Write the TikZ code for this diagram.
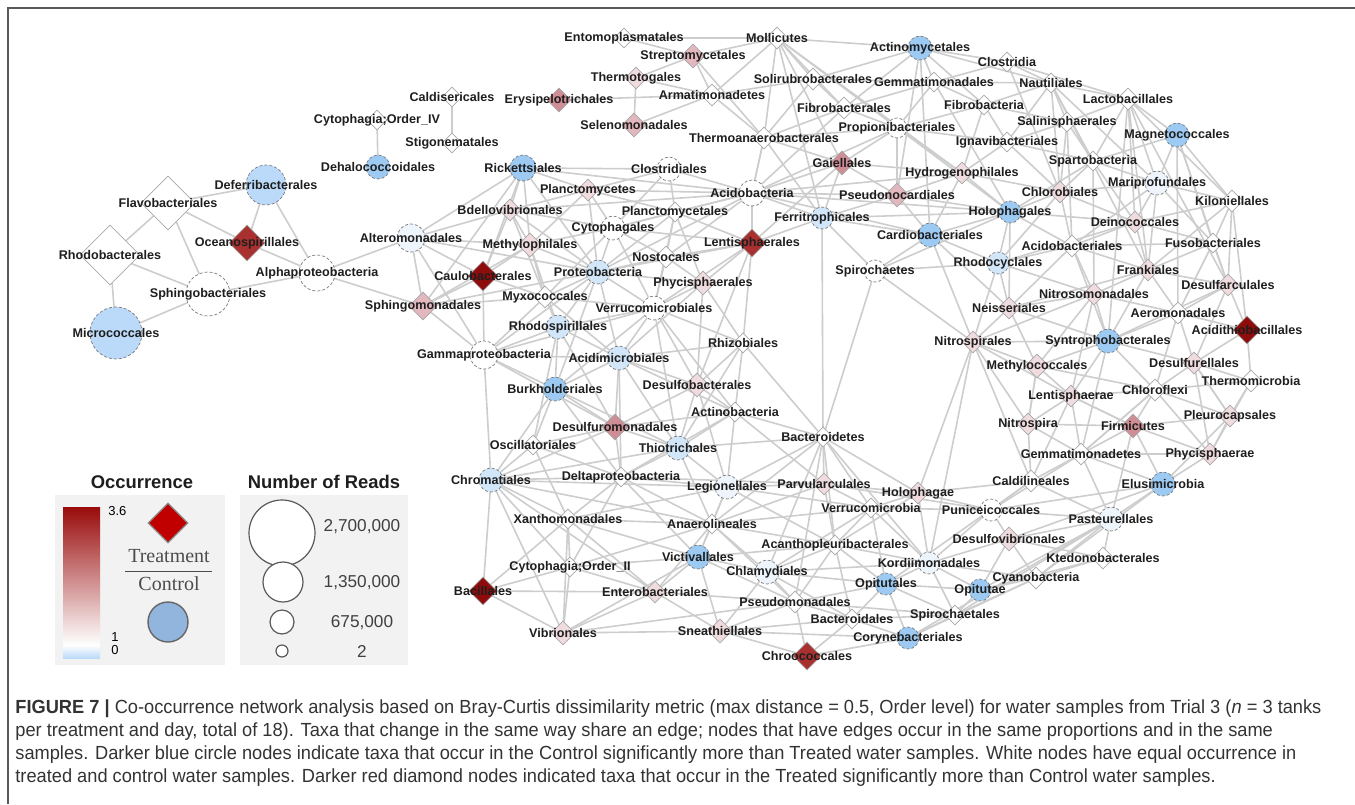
\documentclass[tikz,border=0pt]{standalone}
\usepackage{fontspec}
\setmainfont{Liberation Sans}
\newfontfamily\capfont[FakeStretch=0.96]{Liberation Sans}
\newfontfamily\legserif{Liberation Serif}
\usetikzlibrary{shapes.geometric,backgrounds}

\definecolor{edge}{HTML}{CDCDCD}
\definecolor{dline}{HTML}{A8A8A8}
\definecolor{cline}{HTML}{7A7A7A}
\definecolor{ink}{HTML}{1E1E1E}
\definecolor{bl0}{HTML}{EDF4FC}
\definecolor{bl1}{HTML}{D2E6F9}
\definecolor{bl2}{HTML}{BBDAF9}
\definecolor{bl3}{HTML}{9DCAF3}
\definecolor{pk1}{HTML}{F0DCDF}
\definecolor{pk2}{HTML}{E2B7BD}
\definecolor{pk3}{HTML}{CF8E95}
\definecolor{rd1}{HTML}{A8302F}
\definecolor{rd2}{HTML}{8E0C0C}
\definecolor{legbox}{HTML}{F2F2F2}
\definecolor{legblue}{HTML}{92B5DD}
\definecolor{legred}{HTML}{C00000}
\definecolor{captxt}{HTML}{333333}

\tikzset{
  lbl/.style={font=\fontsize{6.3}{7}\selectfont\bfseries, text=ink, inner sep=0pt},
  tag/.style={label={[lbl]center:#1}},
  dia/.style={diamond, aspect=1, inner sep=0pt, minimum size=10pt, draw=dline, line width=0.3pt, fill=white},
  cir/.style={circle, inner sep=0pt, draw=cline, dash pattern=on 1.5pt off 1pt, line width=0.35pt, fill=white},
  link/.style={draw=edge, line width=0.8pt},
  capline/.style={anchor=west, inner sep=0pt, text=captxt, font=\capfont\fontsize{9.5}{11}\selectfont},
  legtitle/.style={font=\fontsize{9.2}{11}\selectfont\bfseries, text=ink},
  legnum/.style={font=\fontsize{8.6}{10}\selectfont, text=black!75},
  legcirc/.style={circle, draw=black!65, line width=0.6pt, fill=white, inner sep=0pt}
}

\begin{document}
\begin{tikzpicture}[x=0.5pt,y=-0.5pt]
\useasboundingbox (0,0) rectangle (1355,804);
\draw[black!65, line width=0.75pt] (1355,8) -- (8,8) -- (8,804);

% top left group
\node[dia, tag=Caldisericales] (caldis) at (452,97) {};
\node[dia, tag={Cytophagia;Order\_IV}] (cytoIV) at (377,120) {};
\node[dia, tag=Stigonematales] (stigo) at (452,143) {};
\node[cir, fill=bl3, minimum size=12pt, tag=Dehalococcoidales] (dehalo) at (378,167) {};
\node[cir, fill=bl2, minimum size=20pt, tag=Deferribacterales] (defer) at (266,185) {};
\node[dia, minimum size=27pt, tag=Flavobacteriales] (flavo) at (168,203) {};
\node[dia, minimum size=30pt, tag=Rhodobacterales] (rhodob) at (110,255) {};
\node[dia, fill=rd1, minimum size=18pt, tag=Oceanospirillales] (ocean) at (247,243) {};
\node[cir, minimum size=18pt, tag=Alphaproteobacteria] (alpha) at (317,273) {};
\node[cir, minimum size=22pt, tag=Sphingobacteriales] (sphb) at (208,294) {};
\node[cir, fill=bl2, minimum size=26pt, tag=Micrococcales] (micro) at (116,333) {};
\node[cir, fill=bl0, minimum size=14pt, tag=Alteromonadales] (alter) at (411,238) {};
\node[dia, fill=pk2, minimum size=14pt, tag=Sphingomonadales] (sphingo) at (423,306) {};
\node[cir, minimum size=14pt, tag=Gammaproteobacteria] (gamma) at (484,355) {};

% middle group
\node[dia, fill=rd2, minimum size=15pt, tag=Caulobacterales] (caulo) at (483,276) {};
\node[cir, fill=bl3, minimum size=13pt, tag=Rickettsiales] (rick) at (523,168) {};
\node[cir, minimum size=12pt, tag=Clostridiales] (clostl) at (669,169) {};
\node[dia, fill=pk1, minimum size=11pt, tag=Planctomycetes] (planc) at (588,190) {};
\node[cir, minimum size=13pt, tag=Acidobacteria] (acidob) at (752,193) {};
\node[dia, fill=pk1, minimum size=11pt, tag=Bdellovibrionales] (bdello) at (510,210) {};
\node[dia, tag=Planctomycetales] (plctl) at (675,212) {};
\node[cir, fill=bl1, minimum size=11pt, tag=Ferritrophicales] (ferri) at (822,218) {};
\node[cir, minimum size=12pt, tag=Cytophagales] (cytoph) at (613,228) {};
\node[dia, fill=pk1, minimum size=12pt, tag=Methylophilales] (methph) at (530,245) {};
\node[dia, fill=rd1, minimum size=14pt, tag=Lentisphaerales] (lentl) at (752,243) {};
\node[dia, minimum size=11pt, tag=Nostocales] (nosto) at (666,257) {};
\node[cir, fill=bl1, minimum size=12pt, tag=Proteobacteria] (proteo) at (598,272) {};
\node[dia, fill=pk1, minimum size=12pt, tag=Phycisphaerales] (phycl) at (703,283) {};
\node[cir, minimum size=11pt, tag=Spirochaetes] (spiroch) at (875,271) {};
\node[cir, fill=bl3, minimum size=12pt, tag=Cardiobacteriales] (cardio) at (930,235) {};
\node[dia, minimum size=11pt, tag=Myxococcales] (myxo) at (545,297) {};
\node[cir, minimum size=12pt, tag=Verrucomicrobiales] (verrl) at (654,308) {};
\node[cir, fill=bl1, minimum size=12pt, tag=Rhodospirillales] (rhodsp) at (558,327) {};
\node[dia, tag=Rhizobiales] (rhizo) at (743,343) {};
\node[cir, fill=bl1, minimum size=12pt, tag=Acidimicrobiales] (acidim) at (619,358) {};
\node[cir, fill=bl3, minimum size=12pt, tag=Burkholderiales] (burk) at (555,389) {};
\node[dia, fill=pk1, minimum size=12pt, tag=Desulfobacterales] (desulfob) at (697,385) {};
\node[dia, tag=Actinobacteria] (actino) at (735,412) {};
\node[dia, fill=pk3, minimum size=13pt, tag=Desulfuromonadales] (desulfur) at (615,427) {};
\node[dia, tag=Oscillatoriales] (oscill) at (533,445) {};
\node[cir, fill=bl1, minimum size=12pt, tag=Thiotrichales] (thiot) at (678,448) {};
\node[dia, tag=Bacteroidetes] (bactd) at (823,437) {};
\node[cir, fill=bl1, minimum size=12pt, tag=Chromatiales] (chrom) at (491,480) {};
\node[dia, tag=Deltaproteobacteria] (delta) at (621,477) {};
\node[cir, fill=bl0, minimum size=12pt, tag=Legionellales] (legion) at (727,487) {};
\node[dia, fill=pk1, minimum size=11pt, tag=Parvularculales] (parvu) at (824,484) {};
\node[dia, fill=pk1, minimum size=11pt, tag=Holophagae] (holoph) at (918,493) {};
\node[dia, tag=Verrucomicrobia] (verrua) at (871,508) {};
\node[dia, tag=Xanthomonadales] (xantho) at (568,519) {};
\node[dia, tag=Anaerolineales] (anaero) at (712,524) {};
\node[dia, tag=Acanthopleuribacterales] (acantho) at (835,545) {};
\node[cir, fill=bl3, minimum size=12pt, tag=Victivallales] (victi) at (698,557) {};
\node[dia, tag={Cytophagia;Order\_II}] (cytoII) at (570,567) {};
\node[cir, fill=bl0, minimum size=12pt, tag=Chlamydiales] (chlamy) at (767,572) {};
\node[cir, fill=bl0, minimum size=11pt, tag=Kordiimonadales] (kordi) at (929,563) {};
\node[cir, fill=bl3, minimum size=11pt, tag=Opitutales] (opitl) at (886,584) {};
\node[cir, fill=bl3, minimum size=11pt, tag=Opitutae] (opitae) at (980,590) {};
\node[dia, fill=rd2, minimum size=14pt, tag=Bacillales] (bacil) at (483,591) {};
\node[dia, fill=pk1, minimum size=11pt, tag=Enterobacteriales] (entero) at (655,592) {};
\node[dia, minimum size=11pt, tag=Pseudomonadales] (pseudo) at (795,602) {};
\node[dia, tag=Bacteroidales] (bactl) at (852,619) {};
\node[dia, tag=Spirochaetales] (spirol) at (955,615) {};
\node[cir, fill=bl3, minimum size=11pt, tag=Corynebacteriales] (coryne) at (908,638) {};
\node[dia, fill=rd1, minimum size=14pt, tag=Chroococcales] (chroo) at (807,656) {};
\node[dia, fill=pk1, minimum size=12pt, tag=Vibrionales] (vibrio) at (563,633) {};
\node[dia, fill=pk1, minimum size=12pt, tag=Sneathiellales] (sneath) at (720,631) {};

% top group
\node[dia, tag=Entomoplasmatales] (ento) at (624,38) {};
\node[dia, minimum size=11pt, tag=Mollicutes] (molli) at (777,38) {};
\node[dia, fill=pk2, minimum size=12pt, tag=Streptomycetales] (strep) at (693,56) {};
\node[dia, fill=pk1, minimum size=11pt, tag=Thermotogales] (thermt) at (636,78) {};
\node[dia, minimum size=11pt, tag=Solirubrobacterales] (soli) at (813,79) {};
\node[dia, minimum size=11pt, tag=Armatimonadetes] (armat) at (712,95) {};
\node[dia, fill=pk3, minimum size=12pt, tag=Erysipelotrichales] (erys) at (559,100) {};
\node[dia, minimum size=11pt, tag=Fibrobacterales] (fibrl) at (844,108) {};
\node[dia, fill=pk2, minimum size=12pt, tag=Selenomonadales] (selen) at (634,125) {};
\node[dia, minimum size=11pt, tag=Thermoanaerobacterales] (thermoa) at (764,138) {};
\node[dia, fill=pk3, minimum size=12pt, tag=Gaiellales] (gaie) at (842,163) {};
\node[cir, minimum size=10pt, tag=Propionibacteriales] (propi) at (897,128) {};
\node[dia, fill=pk2, minimum size=12pt, tag=Pseudonocardiales] (pseudon) at (897,195) {};
\node[cir, fill=bl3, minimum size=12pt, tag=Actinomycetales] (actinom) at (920,48) {};
\node[dia, tag=Gemmatimonadales] (gemml) at (934,82) {};
\node[dia, tag=Clostridia] (clostr) at (1007,62) {};
\node[dia, tag=Nautiliales] (nauti) at (1051,83) {};
\node[dia, tag=Fibrobacteria] (fibrb) at (984,105) {};
\node[dia, minimum size=11pt, tag=Lactobacillales] (lacto) at (1128,99) {};
\node[dia, tag=Salinisphaerales] (salin) at (1067,122) {};
\node[cir, fill=bl3, minimum size=12pt, tag=Magnetococcales] (magne) at (1177,135) {};
\node[dia, tag=Ignavibacteriales] (ignav) at (1007,142) {};
\node[dia, tag=Spartobacteria] (sparto) at (1093,161) {};
\node[dia, fill=pk1, minimum size=11pt, tag=Hydrogenophilales] (hydro) at (962,173) {};
\node[dia, fill=pk1, minimum size=11pt, tag=Chlorobiales] (chlorob) at (1060,192) {};
\node[cir, fill=bl0, minimum size=12pt, tag=Mariprofundales] (mari) at (1157,183) {};
\node[dia, minimum size=11pt, tag=Kiloniellales] (kilo) at (1232,201) {};
\node[cir, fill=bl3, minimum size=11pt, tag=Holophagales] (holol) at (1010,212) {};

% right group
\node[dia, fill=pk1, minimum size=11pt, tag=Deinococcales] (deino) at (1135,222) {};
\node[dia, tag=Fusobacteriales] (fuso) at (1213,243) {};
\node[dia, minimum size=11pt, tag=Acidobacteriales] (acidbl) at (1072,246) {};
\node[cir, fill=bl1, minimum size=11pt, tag=Rhodocyclales] (rhodoc) at (998,263) {};
\node[dia, fill=pk1, minimum size=11pt, tag=Frankiales] (frank) at (1148,270) {};
\node[dia, fill=pk1, minimum size=11pt, tag=Desulfarculales] (desulfa) at (1228,285) {};
\node[dia, fill=pk1, minimum size=11pt, tag=Nitrosomonadales] (nitrosom) at (1094,294) {};
\node[dia, fill=pk1, minimum size=11pt, tag=Neisseriales] (neiss) at (1009,308) {};
\node[dia, minimum size=11pt, tag=Aeromonadales] (aerom) at (1178,313) {};
\node[dia, fill=rd2, minimum size=14pt, tag=Acidithiobacillales] (acidith) at (1247,330) {};
\node[dia, fill=pk1, minimum size=11pt, tag=Nitrospirales] (nitrosp) at (973,342) {};
\node[cir, fill=bl3, minimum size=12pt, tag=Syntrophobacterales] (syntro) at (1108,341) {};
\node[dia, fill=pk1, minimum size=12pt, tag=Methylococcales] (methc) at (1037,366) {};
\node[dia, fill=pk1, minimum size=11pt, tag=Desulfurellales] (desulfl) at (1194,363) {};
\node[dia, minimum size=11pt, tag=Thermomicrobia] (thermm) at (1251,381) {};
\node[dia, minimum size=11pt, tag=Chloroflexi] (chlorof) at (1155,390) {};
\node[dia, fill=pk1, minimum size=11pt, tag=Lentisphaerae] (lentae) at (1071,396) {};
\node[dia, fill=pk1, minimum size=11pt, tag=Pleurocapsales] (pleuro) at (1230,416) {};
\node[dia, fill=pk1, minimum size=11pt, tag=Nitrospira] (nitra) at (1028,424) {};
\node[dia, fill=pk3, minimum size=12pt, tag=Firmicutes] (firmi) at (1133,426) {};
\node[dia, minimum size=11pt, tag=Gemmatimonadetes] (gemmd) at (1081,454) {};
\node[dia, fill=pk1, minimum size=11pt, tag=Phycisphaerae] (phycae) at (1210,454) {};
\node[dia, minimum size=11pt, tag=Caldilineales] (caldil) at (1031,481) {};
\node[cir, fill=bl3, minimum size=12pt, tag=Elusimicrobia] (elusi) at (1163,484) {};
\node[cir, minimum size=11pt, tag=Puniceicoccales] (punic) at (991,510) {};
\node[cir, fill=bl0, minimum size=12pt, tag=Pasteurellales] (pasteur) at (1111,519) {};
\node[dia, fill=pk1, minimum size=12pt, tag=Desulfovibrionales] (desulfov) at (1009,539) {};
\node[dia, minimum size=11pt, tag=Ktedonobacterales] (kted) at (1103,558) {};
\node[dia, minimum size=11pt, tag=Cyanobacteria] (cyano) at (1036,578) {};

% co-occurrence edges
\begin{pgfonlayer}{background}
\foreach \a/\b in {flavo/defer, flavo/rhodob, flavo/ocean, flavo/sphb, rhodob/micro, rhodob/sphb,
  micro/sphb, sphb/alpha, ocean/alpha, defer/ocean, defer/alpha, alpha/alter, alpha/sphingo,
  cytoIV/dehalo, caldis/stigo,
  alter/caulo, alter/gamma, alter/sphingo, alter/rick, alter/bdello, alter/methph, alter/proteo,
  sphingo/caulo, sphingo/gamma, sphingo/methph, sphingo/myxo, sphingo/proteo, sphingo/rick,
  gamma/caulo, gamma/rhodsp, gamma/acidim, gamma/burk, gamma/chrom, gamma/myxo, gamma/proteo,
  gamma/verrl, gamma/desulfur, caulo/rick, caulo/bdello, caulo/methph, caulo/myxo,
  rick/planc, rick/bdello, rick/acidob, rick/clostl, rick/methph, rick/proteo,
  planc/acidob, planc/bdello, planc/cytoph, planc/methph, planc/plctl, planc/proteo, planc/clostl,
  clostl/acidob, clostl/plctl, clostl/cytoph,
  acidob/ferri, acidob/lentl, acidob/plctl, acidob/cytoph, acidob/thermoa, acidob/gaie,
  acidob/pseudon, acidob/propi, acidob/proteo, acidob/nosto, acidob/bdello, acidob/hydro,
  acidob/fibrl, acidob/holol, acidob/cardio,
  bdello/methph, bdello/cytoph, bdello/proteo, bdello/myxo,
  plctl/cytoph, plctl/nosto, plctl/lentl, plctl/proteo, plctl/verrl, plctl/phycl,
  cytoph/proteo, cytoph/methph, cytoph/nosto, cytoph/verrl, cytoph/myxo, cytoph/lentl,
  methph/proteo, methph/myxo, methph/rhodsp,
  lentl/phycl, lentl/verrl, lentl/nosto, lentl/rhizo, lentl/ferri, lentl/proteo, lentl/desulfob, lentl/gaie,
  nosto/proteo, nosto/phycl, nosto/verrl,
  proteo/myxo, proteo/verrl, proteo/rhodsp, proteo/acidim, proteo/phycl, proteo/burk,
  phycl/verrl, phycl/rhizo, phycl/acidim, phycl/desulfob,
  myxo/rhodsp, myxo/verrl, myxo/acidim}
  \draw[link] (\a.center) -- (\b.center);
\foreach \a/\b in {verrl/rhodsp, verrl/acidim, verrl/rhizo, verrl/desulfob, verrl/burk, verrl/actino, verrl/thiot,
  rhodsp/acidim, rhodsp/burk, rhodsp/desulfur, rhodsp/oscill,
  rhizo/desulfob, rhizo/actino, rhizo/acidim, rhizo/thiot, rhizo/bactd,
  acidim/burk, acidim/desulfob, acidim/desulfur, acidim/actino, acidim/thiot, acidim/delta,
  burk/desulfur, burk/oscill, burk/chrom, burk/delta, burk/thiot,
  desulfob/actino, desulfob/desulfur, desulfob/thiot, desulfob/legion,
  actino/thiot, actino/desulfur, actino/bactd, actino/legion, actino/delta, actino/parvu,
  desulfur/oscill, desulfur/thiot, desulfur/delta, desulfur/chrom,
  oscill/chrom, oscill/delta, oscill/xantho,
  thiot/delta, thiot/legion, thiot/chrom, thiot/anaero, thiot/bactd,
  chrom/delta, chrom/xantho, chrom/bacil, chrom/cytoII, chrom/vibrio, chrom/legion, chrom/entero, chrom/anaero,
  delta/legion, delta/xantho, delta/anaero, delta/cytoII, delta/parvu, delta/victi,
  bactd/ferri, bactd/spiroch, bactd/parvu, bactd/legion, bactd/verrua, bactd/holoph, bactd/anaero,
  bactd/acantho, bactd/pseudo, bactd/chlamy, bactd/kordi,
  legion/parvu, legion/anaero, legion/verrua, legion/xantho, legion/victi, legion/acantho,
  parvu/verrua, parvu/holoph, parvu/anaero, parvu/acantho, parvu/punic,
  holoph/verrua, holoph/punic, holoph/caldil, holoph/acantho, holoph/kordi,
  verrua/acantho, verrua/kordi, verrua/anaero, verrua/punic, verrua/opitl, verrua/chlamy,
  xantho/cytoII, xantho/anaero, xantho/bacil, xantho/vibrio, xantho/entero, xantho/victi,
  anaero/victi, anaero/acantho, anaero/chlamy, anaero/cytoII, anaero/entero, anaero/pseudo,
  acantho/kordi, acantho/chlamy, acantho/opitl, acantho/pseudo, acantho/victi, acantho/bactl,
  victi/chlamy, victi/entero, victi/cytoII, victi/pseudo, victi/vibrio, victi/sneath,
  cytoII/bacil, cytoII/entero, cytoII/vibrio,
  chlamy/pseudo, chlamy/opitl, chlamy/kordi, chlamy/bactl, chlamy/sneath,
  kordi/opitl, kordi/opitae, kordi/spirol, kordi/punic, kordi/desulfov, kordi/cyano,
  opitl/opitae, opitl/pseudo, opitl/bactl, opitl/spirol, opitl/coryne,
  opitae/spirol, opitae/cyano, opitae/kted, opitae/desulfov, opitae/pasteur,
  bacil/vibrio, bacil/entero, entero/vibrio, entero/pseudo, entero/sneath,
  pseudo/bactl, pseudo/sneath, pseudo/chroo, pseudo/spirol,
  bactl/spirol, bactl/coryne, bactl/chroo, bactl/sneath, spirol/coryne, spirol/cyano,
  vibrio/sneath, vibrio/pseudo, sneath/chroo, sneath/coryne, chroo/coryne}
  \draw[link] (\a.center) -- (\b.center);
\foreach \a/\b in {punic/caldil, punic/desulfov, punic/pasteur, punic/gemmd, punic/elusi,
  caldil/gemmd, caldil/nitra, caldil/pasteur, desulfov/pasteur, desulfov/kted, desulfov/cyano,
  pasteur/elusi, pasteur/gemmd, pasteur/kted, pasteur/firmi, cyano/kted, cyano/pasteur,
  elusi/phycae, elusi/gemmd, elusi/firmi, elusi/pleuro, gemmd/firmi, gemmd/nitra, gemmd/phycae,
  gemmd/lentae, gemmd/chlorof, firmi/phycae, firmi/pleuro, firmi/chlorof, firmi/lentae, firmi/nitra,
  phycae/pleuro, phycae/chlorof, phycae/desulfl, nitra/lentae, nitra/methc, nitra/nitrosp,
  pleuro/thermm, pleuro/desulfl, pleuro/chlorof,
  kordi/nitrosp, opitl/caldil, desulfov/elusi, cyano/elusi, spirol/pasteur, coryne/pasteur, coryne/cyano,
  nitrosp/neiss, nitrosp/methc, nitrosp/rhodoc, nitrosp/cardio, nitrosp/syntro, nitrosp/lentae,
  nitrosp/nitrosom, nitrosp/spiroch, nitrosp/holoph, nitrosp/caldil,
  neiss/rhodoc, neiss/nitrosom, neiss/acidbl, neiss/methc, neiss/syntro, neiss/holol, neiss/cardio, neiss/frank,
  rhodoc/holol, rhodoc/acidbl, rhodoc/cardio, rhodoc/nitrosom, rhodoc/chlorob, rhodoc/deino,
  cardio/holol, cardio/spiroch, cardio/ferri, cardio/hydro,
  holol/acidbl, holol/chlorob, holol/hydro, holol/deino, holol/sparto,
  acidbl/deino, acidbl/frank, acidbl/nitrosom, acidbl/chlorob, acidbl/syntro, acidbl/fuso, acidbl/mari,
  deino/frank, deino/mari, deino/kilo, deino/fuso, deino/chlorob, deino/sparto,
  frank/fuso, frank/desulfa, frank/nitrosom, frank/aerom, frank/syntro, frank/kilo,
  fuso/kilo, fuso/desulfa, fuso/aerom, fuso/mari,
  desulfa/kilo, desulfa/aerom, desulfa/acidith, desulfa/desulfl, desulfa/syntro,
  nitrosom/syntro, nitrosom/methc, nitrosom/aerom, nitrosom/lentae,
  aerom/syntro, aerom/acidith, aerom/desulfl, aerom/chlorof, acidith/desulfl, acidith/thermm,
  syntro/methc, syntro/desulfl, syntro/chlorof, syntro/lentae, syntro/gemmd,
  methc/lentae, methc/chlorof, methc/nitra, desulfl/chlorof, desulfl/thermm, desulfl/pleuro,
  chlorof/lentae, chlorof/thermm, chlorof/gemmd, lentae/firmi, lentae/caldil, thermm/phycae}
  \draw[link] (\a.center) -- (\b.center);
\foreach \a/\b in {kilo/mari, kilo/magne, kilo/acidith, mari/magne, mari/chlorob, mari/sparto, mari/lacto, mari/frank,
  magne/lacto, magne/sparto, magne/fuso, magne/desulfa, magne/aerom,
  chlorob/sparto, chlorob/hydro, chlorob/salin, chlorob/ignav,
  sparto/salin, sparto/lacto, sparto/ignav, sparto/nauti, sparto/nitrosom,
  hydro/ignav, hydro/gaie, hydro/pseudon, hydro/propi, hydro/fibrb,
  ignav/salin, ignav/fibrb, ignav/nauti, ignav/propi,
  salin/nauti, salin/lacto, salin/fibrb, salin/acidbl,
  lacto/nauti, lacto/clostr, lacto/kilo, lacto/deino, lacto/frank, lacto/syntro, lacto/desulfa,
  nauti/clostr, nauti/fibrb, nauti/gemml, nauti/actinom, nauti/chlorob, nauti/mari, nauti/frank,
  fibrb/gemml, fibrb/propi, fibrb/actinom,
  clostr/actinom, clostr/gemml, clostr/chlorob,
  gemml/actinom, gemml/soli, gemml/propi, gemml/fibrl, gemml/holol,
  actinom/soli, actinom/molli, actinom/fibrl, actinom/pseudon, actinom/cardio,
  propi/fibrl, propi/gaie, propi/pseudon, propi/thermoa,
  gaie/pseudon, gaie/thermoa, gaie/ferri,
  pseudon/ferri, pseudon/holol, pseudon/cardio,
  fibrl/soli, fibrl/thermoa, fibrl/molli,
  soli/molli, soli/armat, soli/thermoa,
  molli/strep, molli/ento, molli/armat, molli/ferri, molli/gaie, molli/thermoa, molli/holol, molli/hydro,
  strep/ento, strep/thermt, strep/armat, strep/thermoa,
  thermt/selen, thermt/armat, erys/armat, armat/selen, armat/thermoa,
  thermoa/acidob, thermoa/ferri,
  ferri/spiroch, ferri/holol, spiroch/rhodoc, spiroch/holol}
  \draw[link] (\a.center) -- (\b.center);
\end{pgfonlayer}

% legend: occurrence
\node[legtitle] (occT) at (142,482) {Occurrence};
\node[legtitle] (readT) at (324,482) {Number of Reads};
\fill[legbox] (55,495) rectangle (225,665);
\fill[legbox] (240,495) rectangle (408,665);
\shade[top color=rd2!90!red, bottom color=white] (63,507) rectangle (100,645);
\shade[top color=white, bottom color=bl2] (63,645) rectangle (100,658);
\node[font=\fontsize{6.5}{7}\selectfont, anchor=west, inner sep=0pt] (hi) at (108,511) {3.6};
\node[font=\fontsize{6.5}{7}\selectfont, anchor=west, inner sep=0pt] (one) at (111,637) {1};
\node[font=\fontsize{6.5}{7}\selectfont, anchor=west, inner sep=0pt] (zero) at (111,650) {0};
\node[diamond, aspect=1, inner sep=0pt, minimum size=20pt, fill=legred, draw=black!45, line width=0.6pt] (legdia) at (168,523) {};
\node[font=\legserif\fontsize{10}{12}\selectfont, text=black!70] (treat) at (169,556) {Treatment};
\node[font=\legserif\fontsize{10}{12}\selectfont, text=black!70] (ctrl) at (169,584) {Control};
\draw[black!70, line width=0.5pt] (125,571) -- (212,571);
\node[circle, inner sep=0pt, minimum size=20pt, fill=legblue, draw=black!60, line width=0.7pt] (legcir) at (168,622) {};

% legend: number of reads
\node[legcirc, minimum size=33pt] (r1) at (282,533) {};
\node[legcirc, minimum size=20pt] (r2) at (283,582) {};
\node[legcirc, minimum size=12pt] (r3) at (282,622) {};
\node[legcirc, minimum size=6pt] (r4) at (282,651) {};
\node[legnum] (n1) at (362,527) {2,700,000};
\node[legnum] (n2) at (362,583) {1,350,000};
\node[legnum] (n3) at (362,623) {675,000};
\node[legnum] (n4) at (362,651) {2};

% caption
\node[capline] (cap1) at (15,709) {{\bfseries FIGURE 7 |} Co-occurrence network analysis based on Bray-Curtis dissimilarity metric (max distance = 0.5, Order level) for water samples from Trial 3 (\textit{n} = 3 tanks};
\node[capline] (cap2) at (15,732) {per treatment and day, total of 18). Taxa that change in the same way share an edge; nodes that have edges occur in the same proportions and in the same};
\node[capline] (cap3) at (15,755) {samples. Darker blue circle nodes indicate taxa that occur in the Control significantly more than Treated water samples. White nodes have equal occurrence in};
\node[capline] (cap4) at (15,778) {treated and control water samples. Darker red diamond nodes indicated taxa that occur in the Treated significantly more than Control water samples.};
\end{tikzpicture}
\end{document}
